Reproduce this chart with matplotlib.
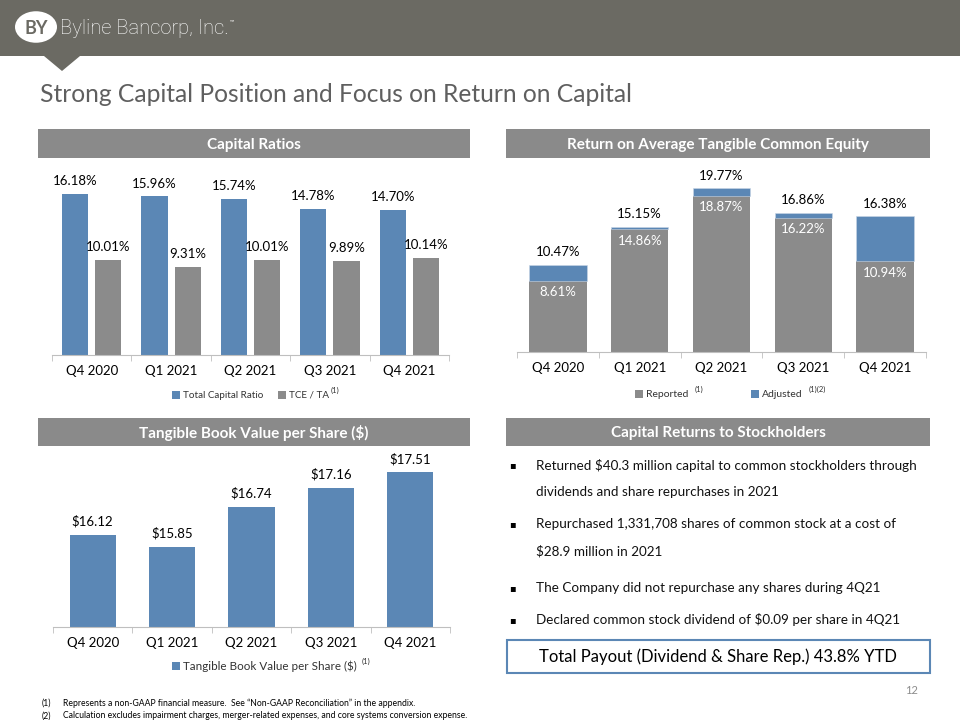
import matplotlib
matplotlib.use("Agg")
from matplotlib import pyplot as plt
from matplotlib.patches import Rectangle, Circle, Polygon
import numpy as np

plt.rcParams['font.family'] = ['Lato', 'DejaVu Sans']

quarters = ['Q4 2020', 'Q1 2021', 'Q2 2021', 'Q3 2021', 'Q4 2021']
total_capital = [16.18, 15.96, 15.74, 14.78, 14.70]
tce_ta = [10.01, 9.31, 10.01, 9.89, 10.14]
roatce_reported = [8.61, 14.86, 18.87, 16.22, 10.94]
roatce_adjusted = [10.47, 15.15, 19.77, 16.86, 16.38]
tbv_per_share = [16.12, 15.85, 16.74, 17.16, 17.51]

bullets = [
    ["Returned $40.3 million capital to common stockholders through",
     "dividends and share repurchases in 2021"],
    ["Repurchased 1,331,708 shares of common stock at a cost of",
     "$28.9 million in 2021"],
    ["The Company did not repurchase any shares during 4Q21"],
    ["Declared common stock dividend of $0.09 per share in 4Q21"],
]
footnotes = [
    ("(1)", "Represents a non-GAAP financial measure.  See \u201cNon-GAAP Reconciliation\u201d in the appendix."),
    ("(2)", "Calculation excludes impairment charges, merger-related expenses, and core systems conversion expense."),
]

BLUE = '#5b87b5'
GRAY = '#8b8b8b'
HEAD = '#8a8a8a'
W, H = 960, 720

fig = plt.figure(figsize=(9.6, 7.2), dpi=100)
renderer = fig.canvas.get_renderer()


def fx(x):
    return x / W


def fy(y):
    return 1 - y / H


def ax_px(x0, y0, x1, y1):
    return fig.add_axes([fx(x0), fy(y1), (x1 - x0) / W, (y1 - y0) / H])


def txt(x, y, s, **kw):
    kw.setdefault('va', 'center')
    return fig.text(fx(x), fy(y), s, **kw)


def right_px(t):
    # right edge of a text in pixels
    return t.get_window_extent(renderer).x1


def rect(x0, y0, x1, y1, **kw):
    fig.patches.append(Rectangle((fx(x0), fy(y1)), (x1 - x0) / W, (y1 - y0) / H,
                                 transform=fig.transFigure, **kw))


def style_axis(ax, n):
    for s in ['top', 'right', 'left']:
        ax.spines[s].set_visible(False)
    ax.spines['bottom'].set_color('#bfbfbf')
    ax.set_yticks([])
    ax.set_xlim(-0.5, n - 0.5)
    ax.set_xticks(range(n))
    ax.set_xticklabels(quarters, fontsize=9.5)
    ax.tick_params(axis='x', which='major', length=0, pad=7)
    ax.set_xticks(np.arange(-0.5, n, 1.0), minor=True)
    ax.tick_params(axis='x', which='minor', length=4, color='#bfbfbf')


def section_header(x0, x1, y0, y1, label):
    rect(x0, y0, x1, y1, color=HEAD, lw=0)
    txt((x0 + x1) / 2, (y0 + y1) / 2 + 1, label, ha='center', color='white',
        fontsize=11, fontweight='bold')


def legend_item(x, y, color, label, sup, size=7.5, gap=3):
    rect(x - 4, y - 4, x + 4, y + 4, color=color, lw=0)
    t = txt(x + 7, y, label, fontsize=size, color='#333333')
    if sup:
        txt(right_px(t) + gap, y - 5, sup, fontsize=5.5, color='#333333')


# header band
rect(0, 0, W, 56, color='#6b6a63', lw=0)
fig.patches.append(Polygon([(fx(44), fy(56)), (fx(80), fy(56)), (fx(62), fy(71))],
                           closed=True, transform=fig.transFigure, color='#6b6a63', lw=0))
fig.patches.append(Circle((fx(36), fy(27)), 21 / W, transform=fig.transFigure,
                          color='white', lw=0))
txt(36, 28, 'BY', ha='center', fontsize=13, color='#6b6a63', fontweight='bold')
brand = txt(60, 29, 'Byline Bancorp, Inc.', fontsize=14.5, color='white',
            family=['Roboto', 'DejaVu Sans'], fontweight='light')
txt(right_px(brand) + 1, 22, '\u2122', fontsize=4, color='white')

txt(40, 95, 'Strong Capital Position and Focus on Return on Capital',
    fontsize=17.7, color='#5f5f5f')

section_header(38, 470, 129, 158, 'Capital Ratios')
section_header(506, 930, 129, 158, 'Return on Average Tangible Common Equity')
section_header(38, 470, 418, 446, 'Tangible Book Value per Share ($)')
section_header(506, 930, 418, 446, 'Capital Returns to Stockholders')

# Capital ratios
x = np.arange(len(quarters))
ax1 = ax_px(52, 160, 449, 355)
b1 = ax1.bar(x - 0.21, total_capital, width=0.33, color=BLUE)
b2 = ax1.bar(x + 0.21, tce_ta, width=0.33, color=GRAY)
ax1.set_ylim(1.0, 19.4)
style_axis(ax1, len(quarters))
for bars, vals in [(b1, total_capital), (b2, tce_ta)]:
    for r, v in zip(bars, vals):
        ax1.annotate(f'{v:.2f}%', (r.get_x() + r.get_width() / 2, v),
                     xytext=(0, 5), textcoords='offset points', ha='center',
                     va='bottom', fontsize=9.5)
legend_item(176, 395, BLUE, 'Total Capital Ratio', None, size=7.1)
legend_item(282, 395, GRAY, 'TCE / TA', '(1)', size=7.1, gap=2)

# ROATCE
ax2 = ax_px(517, 170, 926, 352)
adj_part = [a - r for a, r in zip(roatce_adjusted, roatce_reported)]
rb = ax2.bar(x, roatce_reported, width=0.7, color=GRAY)
ab = ax2.bar(x, adj_part, bottom=roatce_reported, width=0.7, color=BLUE,
             edgecolor='#c9d6e6', linewidth=0.4)
ax2.set_ylim(0, 22)
style_axis(ax2, len(quarters))
for i in range(len(quarters)):
    ax2.annotate(f'{roatce_adjusted[i]:.2f}%', (x[i], roatce_adjusted[i]),
                 xytext=(0, 5), textcoords='offset points', ha='center',
                 va='bottom', fontsize=9.5)
    ax2.annotate(f'{roatce_reported[i]:.2f}%', (x[i], roatce_reported[i]),
                 xytext=(0, -4), textcoords='offset points', ha='center',
                 va='top', fontsize=9.5, color='white')
legend_item(639, 394, GRAY, 'Reported', '(1)', gap=6)
legend_item(755, 394, BLUE, 'Adjusted', '(1)(2)', gap=6)

# Tangible book value
ax3 = ax_px(53, 450, 450, 627)
tb = ax3.bar(x, tbv_per_share, width=0.58, color=BLUE)
ax3.set_ylim(14.07, 18.0)
style_axis(ax3, len(quarters))
for r, v in zip(tb, tbv_per_share):
    ax3.annotate(f'${v:.2f}', (r.get_x() + r.get_width() / 2, v),
                 xytext=(0, 5), textcoords='offset points', ha='center',
                 va='bottom', fontsize=9.5)
legend_item(176, 666, BLUE, 'Tangible Book Value per Share ($)', '(1)',
            size=8.4, gap=5)

# Capital returns bullets
line_y = [[465, 492], [524, 551], [588], [620]]
for lines, ys in zip(bullets, line_y):
    txt(512, ys[0], '\u25aa', fontsize=7, ha='center',
        family=['DejaVu Sans'])
    for s, yy in zip(lines, ys):
        txt(536, yy, s, fontsize=9.7, color='#111111')

rect(507, 640, 930, 673, facecolor='white', edgecolor=BLUE, lw=1.5)
txt(718, 657, 'Total Payout (Dividend & Share Rep.) 43.8% YTD', ha='center',
    fontsize=12)

txt(912, 690, '12', fontsize=8, color='#8c8c8c', ha='center')

for (num, s), yy in zip(footnotes, [703, 716]):
    txt(42, yy, num, fontsize=6.2)
    txt(63, yy, s, fontsize=6.2)

fig.savefig('out.png', dpi=100)
